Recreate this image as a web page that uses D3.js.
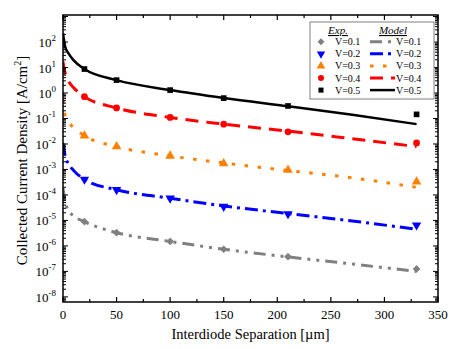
<!DOCTYPE html>
<html><head><meta charset="utf-8">
<script src="https://cdn.jsdelivr.net/npm/d3@7"></script>
<style>body{margin:0;background:#fff}svg{font-family:"Liberation Serif","Times New Roman",serif}</style>
</head><body><svg id="c" width="457" height="349"></svg>
<script>
const seriesNames = ["V=0.1","V=0.2","V=0.3","V=0.4","V=0.5"];
const colors = ["#808080","#0000ff","#ff8000","#ff0000","#000000"];
const expX = [20,50,100,150,210,330];
const expV01 = [8.9e-6,3.3e-6,1.5e-6,7.4e-7,3.8e-7,1.25e-7];
const expV02 = [4.1e-4,1.6e-4,7.4e-5,3.5e-5,1.8e-5,6.5e-6];
const expV03 = [0.021,0.0079,0.0034,0.0017,9.5e-4,3.3e-4];
const expV04 = [0.72,0.26,0.11,0.060,0.030,0.011];
const expV05 = [8.7,3.2,1.3,0.63,0.31,0.145];
const modelX = [0,2,5,10,20,50,100,150,210,270,330];
const modelV01 = [1.9e-4,5.5e-5,2.5e-5,1.5e-5,8.9e-6,3.3e-6,1.5e-6,7.4e-7,3.7e-7,1.95e-7,1.0e-7];
const modelV02 = [1.1e-2,3.4e-3,1.7e-3,9e-4,4.1e-4,1.6e-4,7.4e-5,3.7e-5,1.86e-5,9.5e-6,4.5e-6];
const modelV03 = [0.54,0.13,0.075,0.043,0.021,0.0079,0.0034,0.0018,9.1e-4,4.7e-4,2.0e-4];
const modelV04 = [17,6.0,3.0,1.6,0.72,0.26,0.11,0.060,0.032,0.016,0.0079];
const modelV05 = [220,66,37,19,8.7,3.2,1.3,0.63,0.30,0.14,0.06];
const xTicks = [0,50,100,150,200,250,300,350];
const yTickExps = [-8,-7,-6,-5,-4,-3,-2,-1,0,1,2];

const expData = [expV01,expV02,expV03,expV04,expV05];
const modelData = [modelV01,modelV02,modelV03,modelV04,modelV05];
const dashes = ["12,6,3,6,3,6","13,5,3,5","3.5,9.5","13,8",null];
const widths = [3,3,3,3,2.5];
const symbols = [d3.symbolDiamond2, d3.symbolTriangle, d3.symbolTriangle, d3.symbolCircle, d3.symbolSquare];
const symSize = [38,38,40,36,32];
const symRot = [0,180,0,0,0];

const L=63,R=438,T=15,B=302;
const svg=d3.select("#c");
const x=d3.scaleLinear().domain([0,350]).range([L,R]);
const y=d3.scaleLog().domain([Math.pow(10,-8.2),Math.pow(10,3.06)]).range([B,T]);

svg.append("clipPath").attr("id","clip").append("rect").attr("x",L).attr("y",T).attr("width",R-L).attr("height",B-T);

const line=d3.line().x((d)=>x(d[0])).y((d)=>y(d[1])).curve(d3.curveMonotoneX);
const g=svg.append("g").attr("clip-path","url(#clip)");
modelData.forEach((arr,i)=>{
  g.append("path").datum(modelX.map((xv,j)=>[xv,arr[j]]))
   .attr("d",line).attr("fill","none").attr("stroke",colors[i])
   .attr("stroke-width",widths[i]).attr("stroke-dasharray",dashes[i]);
});
expData.forEach((arr,i)=>{
  g.selectAll(null).data(expX.map((xv,j)=>[xv,arr[j]])).enter().append("path")
   .attr("d",d3.symbol().type(symbols[i]).size(symSize[i]))
   .attr("transform",(d)=>`translate(${x(d[0])},${y(d[1])}) rotate(${symRot[i]})`)
   .attr("fill",colors[i]);
});

svg.append("rect").attr("x",L).attr("y",T).attr("width",R-L).attr("height",B-T)
  .attr("fill","none").attr("stroke","#000").attr("stroke-width",1.5);

const xt=svg.append("g");
d3.range(0,351,25).forEach((v)=>{
  const len = v%50===0?5:3;
  xt.append("line").attr("x1",x(v)).attr("x2",x(v)).attr("y1",B).attr("y2",B-len).attr("stroke","#000").attr("stroke-width",1.2);
  xt.append("line").attr("x1",x(v)).attr("x2",x(v)).attr("y1",T).attr("y2",T+len).attr("stroke","#000").attr("stroke-width",1.2);
});
xTicks.forEach((v)=>{
  xt.append("text").attr("x",x(v)).attr("y",B+17).attr("text-anchor","middle").attr("font-size",13).text(v);
});
const yt=svg.append("g");
for(let e=-9;e<=3;e++){
  for(let m=1;m<=9;m++){
    const v=m*Math.pow(10,e);
    if(v<y.domain()[0]||v>y.domain()[1]) continue;
    const len=m===1?5:3;
    yt.append("line").attr("x1",L).attr("x2",L+len).attr("y1",y(v)).attr("y2",y(v)).attr("stroke","#000").attr("stroke-width",1);
    yt.append("line").attr("x1",R).attr("x2",R-len).attr("y1",y(v)).attr("y2",y(v)).attr("stroke","#000").attr("stroke-width",1);
  }
}
yTickExps.forEach((e)=>{
  const t=yt.append("text").attr("x",56).attr("y",y(Math.pow(10,e))+5).attr("text-anchor","end").attr("font-size",13);
  t.append("tspan").text("10");
  t.append("tspan").attr("dy",-6).attr("font-size",9).text(e);
});

svg.append("text").attr("x",(L+R)/2).attr("y",339).attr("text-anchor","middle").attr("font-size",14.5).text("Interdiode Separation [µm]");
const yl=svg.append("text").attr("transform",`translate(27,${(T+B)/2+2}) rotate(-90)`).attr("text-anchor","middle").attr("font-size",15);
yl.append("tspan").text("Collected Current Density [A/cm");
yl.append("tspan").attr("dy",-6).attr("font-size",10).text("2");
yl.append("tspan").attr("dy",6).text("]");

const lg=svg.append("g");
lg.append("rect").attr("x",310).attr("y",22).attr("width",124).attr("height",77).attr("fill","#fff").attr("stroke","#808080").attr("stroke-width",1);
lg.append("text").attr("x",338).attr("y",34).attr("text-anchor","middle").attr("font-size",11).attr("font-style","italic").attr("text-decoration","underline").text("Exp.");
lg.append("text").attr("x",393).attr("y",34).attr("text-anchor","middle").attr("font-size",11).attr("font-style","italic").attr("text-decoration","underline").text("Model");
seriesNames.forEach((n,i)=>{
  const cy=41.7+i*12.1;
  lg.append("path").attr("d",d3.symbol().type(symbols[i]).size(symSize[i]*0.8)).attr("transform",`translate(321,${cy}) rotate(${symRot[i]})`).attr("fill",colors[i]);
  lg.append("text").attr("x",335).attr("y",cy+3.5).attr("font-size",10).text(n);
  lg.append("line").attr("x1",370).attr("x2",395).attr("y1",cy).attr("y2",cy).attr("stroke",colors[i]).attr("stroke-width",widths[i]).attr("stroke-dasharray",dashes[i]);
  lg.append("text").attr("x",396).attr("y",cy+3.5).attr("font-size",10).text(n);
});
</script></body></html>
